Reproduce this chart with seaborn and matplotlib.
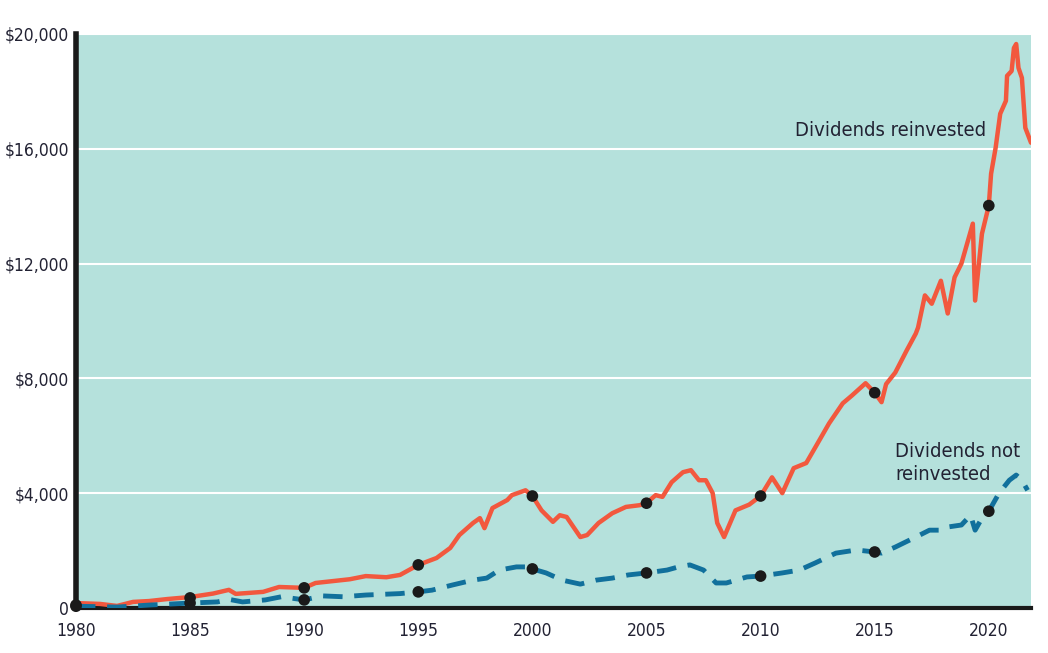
import matplotlib.pyplot as plt
import seaborn as sns
import pandas as pd
from matplotlib import font_manager

# Growth of an investment, dividends reinvested vs. not reinvested
reinvested_years = [1980, 1981.05, 1981.8, 1982.5, 1983.2, 1984, 1985, 1986, 1986.7, 1987.0,
                    1988.2, 1988.9, 1990, 1990.5, 1992.0, 1992.7, 1993.6, 1994.2, 1995, 1995.8,
                    1996.4, 1996.8, 1997.4, 1997.7, 1997.9, 1998.25, 1998.9, 1999.1, 1999.7, 2000,
                    2000.4, 2000.9, 2001.2, 2001.5, 2002.1, 2002.4, 2002.9, 2003.5, 2004.1, 2004.7,
                    2005, 2005.4, 2005.7, 2006.1, 2006.6, 2006.95, 2007.3, 2007.6, 2007.9, 2008.1,
                    2008.4, 2008.9, 2009.5, 2010, 2010.5, 2010.95, 2011.45, 2012.0, 2012.4, 2013.0,
                    2013.6, 2014.0, 2014.6, 2015, 2015.3, 2015.5, 2015.9, 2016.4, 2016.8, 2016.9,
                    2017.2, 2017.5, 2017.9, 2018.2, 2018.5, 2018.8, 2019.3, 2019.4, 2019.7, 2020,
                    2020.1, 2020.3, 2020.5, 2020.75, 2020.8, 2021.0, 2021.1, 2021.2, 2021.3, 2021.45,
                    2021.6, 2021.85]
reinvested_values = [170, 140, 70, 210, 240, 310, 380, 500, 630, 490,
                     560, 730, 700, 870, 1000, 1110, 1070, 1150, 1500, 1740,
                     2090, 2540, 2960, 3130, 2780, 3480, 3760, 3930, 4100, 3900,
                     3400, 3000, 3230, 3170, 2470, 2540, 2960, 3300, 3520, 3580,
                     3650, 3930, 3870, 4380, 4730, 4800, 4450, 4450, 4000, 2960,
                     2470, 3400, 3600, 3900, 4550, 4000, 4870, 5050, 5600, 6430,
                     7130, 7400, 7830, 7500, 7170, 7800, 8200, 8970, 9560, 9770,
                     10890, 10600, 11400, 10260, 11520, 12000, 13390, 10710, 13040, 14020,
                     15130, 16040, 17220, 17670, 18540, 18710, 19510, 19650, 18820, 18470,
                     16730, 16210]

not_reinvested_years = [1980, 1981.8, 1983.2, 1985, 1986.2, 1986.7, 1987.3, 1988.3, 1989, 1990,
                        1990.8, 1991.7, 1992.7, 1994.2, 1995, 1995.6, 1996.5, 1997.4, 1998.0, 1998.55,
                        1999.3, 1999.7, 2000, 2000.6, 2001.3, 2002.1, 2002.8, 2003.5, 2004.2, 2005,
                        2005.9, 2006.4, 2006.9, 2007.5, 2008.05, 2008.5, 2009.4, 2010, 2010.95, 2011.7,
                        2012.4, 2013.3, 2014.2, 2015, 2015.3, 2015.9, 2016.8, 2017.4, 2017.95, 2018.2,
                        2018.8, 2019.2, 2019.4, 2019.7, 2020, 2020.45, 2020.9, 2021.2, 2021.45, 2021.7]
not_reinvested_values = [60, 30, 100, 170, 210, 300, 210, 280, 390, 280,
                         420, 390, 450, 500, 560, 620, 800, 970, 1040, 1320,
                         1430, 1430, 1360, 1220, 970, 830, 970, 1040, 1150, 1220,
                         1320, 1430, 1500, 1320, 870, 870, 1080, 1110, 1220, 1320,
                         1570, 1910, 2020, 1950, 1910, 2120, 2470, 2710, 2710, 2820,
                         2890, 3230, 2710, 3130, 3370, 4000, 4450, 4630, 4450, 4100]

# markers every five years
dot_years = [1980, 1985, 1990, 1995, 2000, 2005, 2010, 2015, 2020]
dot_reinvested = [100, 350, 700, 1500, 3900, 3650, 3900, 7500, 14020]
dot_not_reinvested = [60, 170, 280, 560, 1360, 1220, 1110, 1950, 3370]

y_ticks = [0, 4000, 8000, 12000, 16000, 20000]
y_labels = ['0', '$4,000', '$8,000', '$12,000', '$16,000', '$20,000']

red = '#f2583e'
blue = '#11709c'
teal = '#b5e1dc'
ink = '#222233'

sns.set_style('white')

# pick a narrow face if one is installed
names = {f.name for f in font_manager.fontManager.ttflist}
narrow = [n for n in ['Liberation Sans Narrow', 'DejaVu Sans Condensed'] if n in names]
plt.rcParams['font.family'] = narrow + ['DejaVu Sans']
if not narrow:
    plt.rcParams['font.stretch'] = 'condensed'
base = 15 if narrow else 12.5

fig = plt.figure(figsize=(10.48, 6.53), dpi=100)
ax = fig.add_axes([0.0725, 0.069, 0.9113, 0.879])
ax.set_facecolor(teal)

df_r = pd.DataFrame({'year': reinvested_years, 'value': reinvested_values})
df_n = pd.DataFrame({'year': not_reinvested_years, 'value': not_reinvested_values})
dots = pd.DataFrame({'year': dot_years * 2, 'value': dot_reinvested + dot_not_reinvested})

sns.lineplot(data=df_r, x='year', y='value', ax=ax, color=red, linewidth=3.2, zorder=3)
sns.lineplot(data=df_n, x='year', y='value', ax=ax, color=blue, linewidth=3.5,
             zorder=3).lines[-1].set_dashes([4, 2.4])
sns.scatterplot(data=dots, x='year', y='value', ax=ax, color='#1a1a1a', s=70,
                edgecolor='none', zorder=4, clip_on=False)

ax.set_xlim(1980, 2021.85)
ax.set_ylim(0, 20000)
ax.set_yticks(y_ticks)
ax.set_yticklabels(y_labels)
ax.set_xticks(dot_years)
ax.set_xticklabels([str(y) for y in dot_years])
ax.set_xlabel('')
ax.set_ylabel('')

ax.yaxis.grid(True, color='white', linewidth=1.5)
ax.set_axisbelow(True)
ax.tick_params(axis='x', direction='inout', length=12, width=1.2, color='#222222',
               labelsize=base, labelcolor=ink, pad=4)
ax.tick_params(axis='y', length=0, labelsize=base, labelcolor=ink, pad=5)

for side in ['top', 'right']:
    ax.spines[side].set_visible(False)
ax.spines['left'].set_color('#1a1a1a')
ax.spines['left'].set_linewidth(4)
ax.spines['bottom'].set_color('#1a1a1a')
ax.spines['bottom'].set_linewidth(3)

ax.text(2019.9, 16650, 'Dividends reinvested', ha='right', va='center',
        fontsize=base + 2, color=ink)
ax.text(2015.9, 5060, 'Dividends not\nreinvested', ha='left', va='center',
        fontsize=base + 2, color=ink, linespacing=1.25)

fig.savefig('out.png', dpi=100)
